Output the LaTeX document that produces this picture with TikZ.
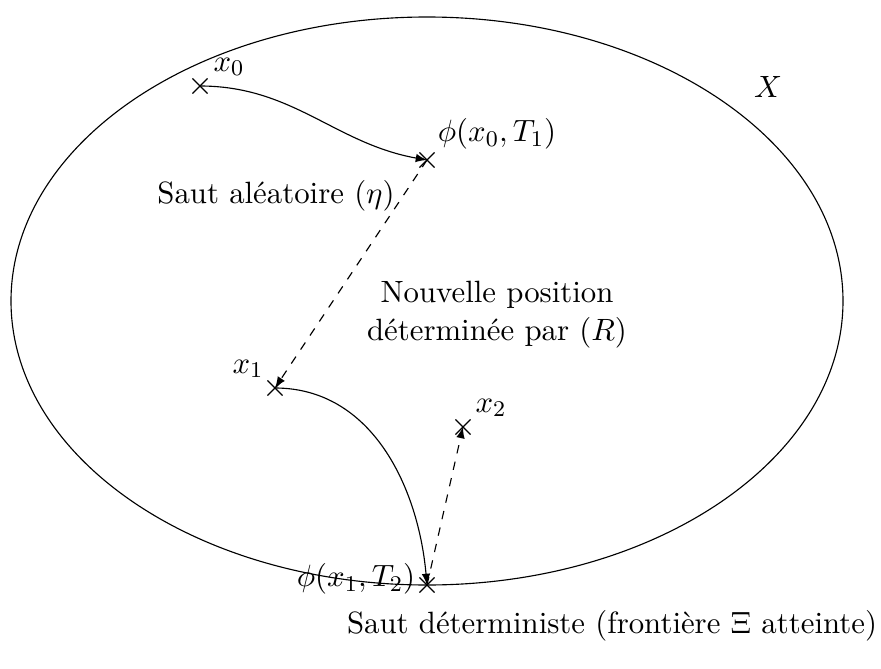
\documentclass[tikz,border=0pt,11pt]{standalone}
\usepackage{amsmath}
\usepackage{tikz}
\usetikzlibrary{shapes.misc}

\begin{document}
\begin{tikzpicture}[x=0.0125cm, y=0.0125cm,
    pt/.style={cross out, draw, minimum size=5pt, inner sep=0pt},
    jump/.style={dashed, -latex}]
            \useasboundingbox (0,0) rectangle (881,668);

            % Domain
            \draw (427,367) ellipse [x radius=416, y radius=284];
            \node (X) at (768,581) {$X$};

            % Points
            \node[pt] (x0) at (200,582) {};
            \node[pt] (p0) at (427,508) {};
            \node[pt] (x1) at (275,280) {};
            \node[pt] (x2) at (463,241) {};
            \node[pt] (p1) at (427,83) {};

            % Labels
            \node (lx0) at (229,601) {$x_0$};
            \node (lp0) at (497,534) {$\phi(x_0,T_1)$};
            \node (lx1) at (248,299) {$x_1$};
            \node (lx2) at (491,260) {$x_2$};
            \node (lp1) at (356,89) {$\phi(x_1,T_2)$};
            \node (alea) at (276,472) {Saut aléatoire $(\eta)$};
            \node[align=center] (newpos) at (497,353) {Nouvelle position\\ déterminée par $(R)$};
            \node (det) at (612,42) {Saut déterministe (frontière $\Xi$ atteinte)};

            % Flows
            \draw[-latex] (x0.center) to[out=0, in=170] (p0.center);
            \draw[-latex] (x1.center) to[out=0, in=95] (p1.center);

            % Jumps
            \draw[jump] (p0.center) -- (x1.center);
            \draw[jump] (p1.center) -- (x2.center);
         \end{tikzpicture}
\end{document}
